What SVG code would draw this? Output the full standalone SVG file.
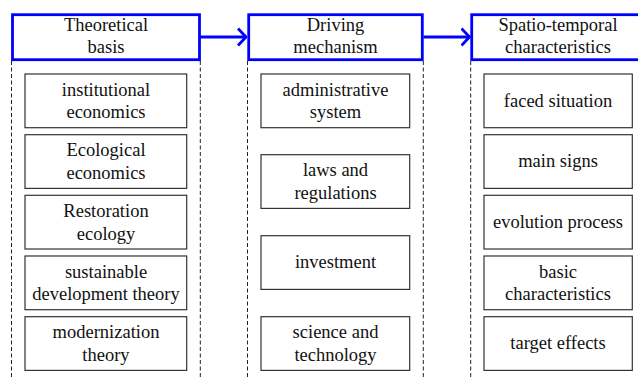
<svg xmlns="http://www.w3.org/2000/svg" width="638" height="378" viewBox="0 0 638 378">
<defs>
<style>
.hdr{fill:#fff;stroke:#0000ff;stroke-width:2.8}
.box{fill:#fff;stroke:#333;stroke-width:1.2}
.dash{stroke:#222;stroke-width:1;stroke-dasharray:4 2.5;fill:none}
.con{stroke:#0000ff;stroke-width:2.8;fill:none}
text{font-family:"Liberation Serif","Times New Roman",serif;font-size:18.5px;fill:#111;text-anchor:middle}
</style>
<marker id="arr" viewBox="0 0 10 20" refX="9.5" refY="10" markerWidth="10" markerHeight="20" markerUnits="userSpaceOnUse" orient="auto">
<path d="M1,1.5 L9,10 L1,18.5" fill="none" stroke="#0000ff" stroke-width="2.8"/>
</marker>
</defs>
<rect width="638" height="378" fill="#fff"/>
<g id="guides">
<line class="dash" x1="11.5" y1="61" x2="11.5" y2="378"/>
<line class="dash" x1="200.3" y1="61" x2="200.3" y2="378"/>
<line class="dash" x1="247.5" y1="61" x2="247.5" y2="378"/>
<line class="dash" x1="423.3" y1="61" x2="423.3" y2="378"/>
<line class="dash" x1="470.7" y1="61" x2="470.7" y2="378"/>
</g>
<g id="connectors">
<line class="con" x1="200" y1="37" x2="246.5" y2="37" marker-end="url(#arr)"/>
<line class="con" x1="423.5" y1="37" x2="470" y2="37" marker-end="url(#arr)"/>
</g>
<g id="h1"><rect class="hdr" x="12.5" y="14.7" width="187" height="45"/><text x="106" y="30.7">Theoretical</text><text x="106" y="53.3">basis</text></g>
<g id="h2"><rect class="hdr" x="248.7" y="14.7" width="173.6" height="45"/><text x="335.5" y="30.7">Driving</text><text x="335.5" y="53.3">mechanism</text></g>
<g id="h3"><rect class="hdr" x="471.7" y="14.7" width="170" height="45"/><text x="558" y="30.7">Spatio-temporal</text><text x="558" y="53.3">characteristics</text></g>

<g id="c1b1"><rect class="box" x="25" y="74" width="161.7" height="53.7"/><text x="106" y="95.7">institutional</text><text x="106" y="118.3">economics</text></g>
<g id="c1b2"><rect class="box" x="25" y="134.7" width="161.7" height="53.7"/><text x="106" y="156.3">Ecological</text><text x="106" y="178.8">economics</text></g>
<g id="c1b3"><rect class="box" x="25" y="195.3" width="161.7" height="53.7"/><text x="106" y="217">Restoration</text><text x="106" y="239.5">ecology</text></g>
<g id="c1b4"><rect class="box" x="25" y="256" width="161.7" height="53.7"/><text x="106" y="277.7">sustainable</text><text x="106" y="300.2">development theory</text></g>
<g id="c1b5"><rect class="box" x="25" y="316.7" width="161.7" height="53.7"/><text x="106" y="338.4">modernization</text><text x="106" y="360.9">theory</text></g>

<g id="c2b1"><rect class="box" x="261" y="74" width="148.7" height="53.7"/><text x="335.5" y="95.7">administrative</text><text x="335.5" y="118.3">system</text></g>
<g id="c2b2"><rect class="box" x="261" y="154.7" width="148.7" height="53.7"/><text x="335.5" y="176.4">laws and</text><text x="335.5" y="198.9">regulations</text></g>
<g id="c2b3"><rect class="box" x="261" y="235.7" width="148.7" height="53.7"/><text x="335.5" y="268.2">investment</text></g>
<g id="c2b4"><rect class="box" x="261" y="316.7" width="148.7" height="53.7"/><text x="335.5" y="338.4">science and</text><text x="335.5" y="360.9">technology</text></g>

<g id="c3b1"><rect class="box" x="484" y="74" width="148.3" height="53.7"/><text x="558" y="106.5">faced situation</text></g>
<g id="c3b2"><rect class="box" x="484" y="134.7" width="148.3" height="53.7"/><text x="558" y="167.2">main signs</text></g>
<g id="c3b3"><rect class="box" x="484" y="195.3" width="148.3" height="53.7"/><text x="558" y="227.8">evolution process</text></g>
<g id="c3b4"><rect class="box" x="484" y="256" width="148.3" height="53.7"/><text x="558" y="277.7">basic</text><text x="558" y="300.2">characteristics</text></g>
<g id="c3b5"><rect class="box" x="484" y="316.7" width="148.3" height="53.7"/><text x="558" y="349.2">target effects</text></g>
</svg>
